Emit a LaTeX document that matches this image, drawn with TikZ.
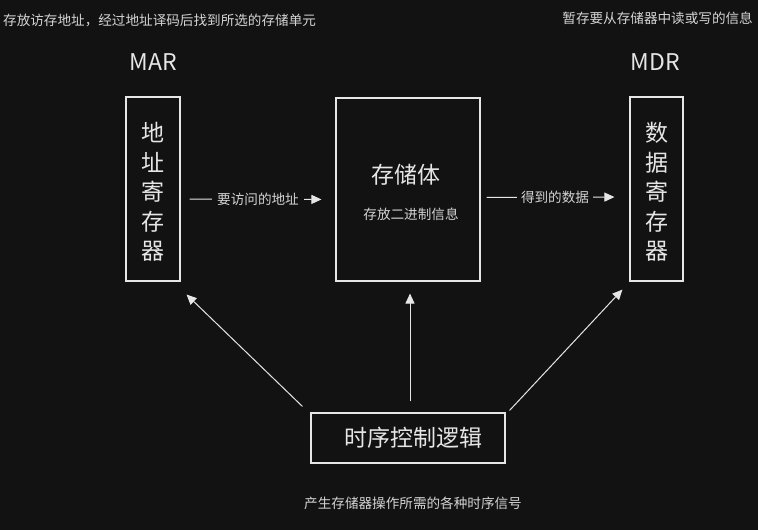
\documentclass[tikz,border=0pt]{standalone}
\usepackage{fontspec}
\newfontfamily\cjk{Noto Sans CJK SC}
\usetikzlibrary{arrows.meta}
\definecolor{bg}{HTML}{121212}
\definecolor{ink}{HTML}{E6E6E6}
\definecolor{note}{HTML}{D4D4D4}

\begin{document}
\begin{tikzpicture}[x=1pt,y=-1pt,
    box/.style={draw=ink, line width=1.1pt, inner sep=0pt},
    big/.style={text=ink, font=\cjk\fontsize{23}{29.5}\selectfont},
    small/.style={text=note, font=\cjk\fontsize{13.6}{16}\selectfont, inner sep=0pt},
    flow/.style={draw=ink, line width=1pt, -{Triangle[length=10pt,width=9pt]}}]
    \fill[bg] (0,0) rectangle (758,530);
    \useasboundingbox (0,0) rectangle (758,530);
    % notes
    \node[small, anchor=west] (marnote) at (3,20) {存放访存地址，经过地址译码后找到所选的存储单元};
    \node[small, anchor=east] (mdrnote) at (753,18) {暂存要从存储器中读或写的信息};
    \node[small] (ctlnote) at (413,503) {产生存储器操作所需的各种时序信号};
    \node[big] (marname) at (153,62) {MAR};
    \node[big] (mdrname) at (655.5,62) {MDR};
    % boxes
    \node[box, minimum width=54pt, minimum height=184pt] (mar) at (153,189) {};
    \node[big, align=center] (martxt) at (153,192) {地\\址\\寄\\存\\器};
    \node[box, minimum width=144pt, minimum height=183pt] (store) at (408,189.5) {};
    \node[big] (storename) at (406,175) {存储体};
    \node[small] (storenote) at (411,214) {存放二进制信息};
    \node[box, minimum width=53pt, minimum height=184pt] (mdr) at (656.5,189) {};
    \node[big, align=center] (mdrtxt) at (657,192) {数\\据\\寄\\存\\器};
    \node[box, big, minimum width=194pt, minimum height=50pt] (ctl) at (408,438) {\hspace{10pt}时序控制逻辑};
    % connectors
    \draw[flow, shorten <=9pt, shorten >=14pt] ([yshift=-10pt]mar.east) -- node[small, fill=bg, inner xsep=5pt] {要访问的地址} ([yshift=-10pt]store.west);
    \draw[flow, shorten <=6pt, shorten >=15pt] ([yshift=-8pt]store.east) -- node[small, fill=bg, inner xsep=4pt] {得到的数据} ([yshift=-8pt]mdr.west);
    \draw[flow] ([shift={(-8,-6)}]ctl.north west) -- ([shift={(6,13)}]mar.south east);
    \draw[flow] ([shift={(2,-11)}]ctl.north) -- ([shift={(2,12)}]store.south);
    \draw[flow] ([shift={(4,-2)}]ctl.north east) -- ([shift={(-7,8)}]mdr.south west);
\end{tikzpicture}
\end{document}
